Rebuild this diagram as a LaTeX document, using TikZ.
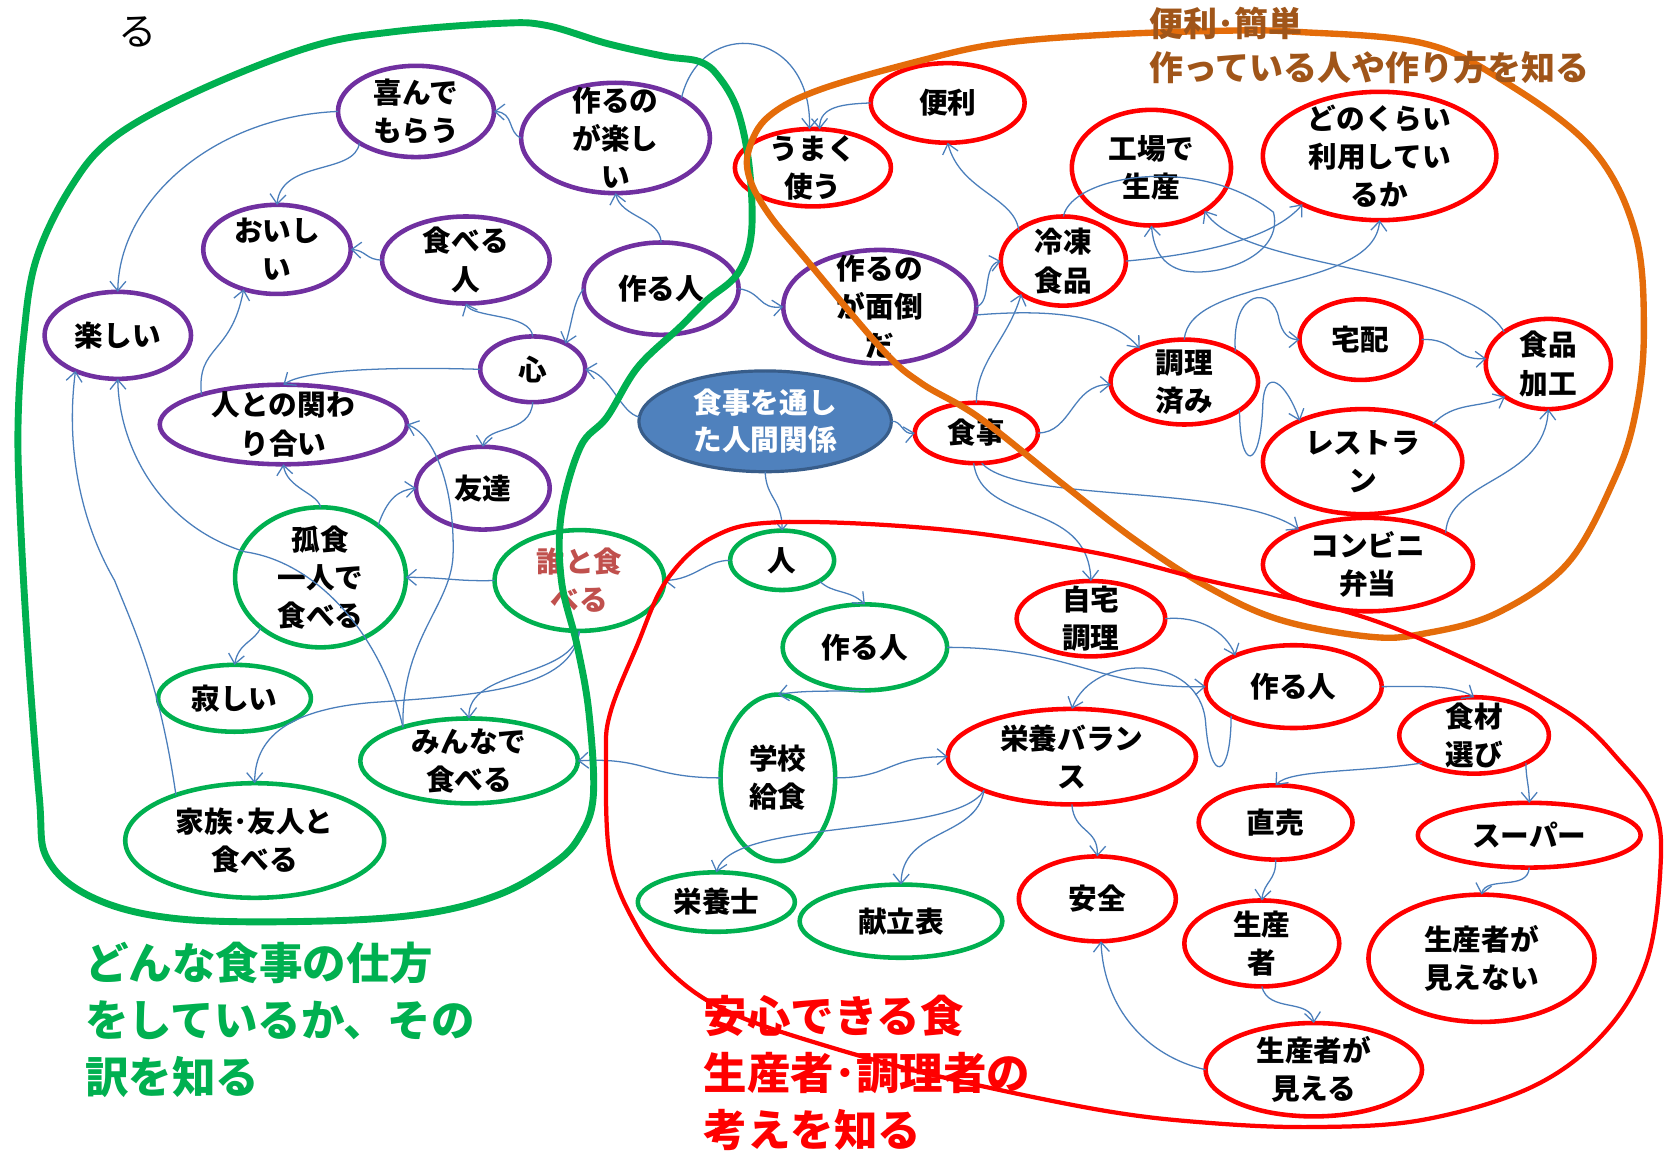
\documentclass[tikz,border=0pt]{standalone}
\usepackage{fontspec}
\setmainfont{Noto Sans CJK JP}
\usetikzlibrary{shapes.geometric,arrows.meta}
\definecolor{cpur}{HTML}{7030A0}
\definecolor{cred}{HTML}{FF0000}
\definecolor{cgrn}{HTML}{00B050}
\definecolor{cblu}{HTML}{4A7EBB}
\definecolor{cfill}{HTML}{4F81BD}
\definecolor{cbord}{HTML}{385D8A}
\definecolor{cdare}{HTML}{C0504D}
\definecolor{corg}{HTML}{E46C0A}
\definecolor{cbrn}{RGB}{160,85,25}
\newcommand{\enode}[8]{%
  \node[ebox, draw=#2, minimum width=#5pt, minimum height=#6pt] (#1) at (#3,#4) {};
  \node[etext, #7] (#1-t) at (#1.center) {#8};}
\begin{document}
\begin{tikzpicture}[x=1pt,y=-1pt,
  ebox/.style={shape=ellipse, line width=4.3pt, inner sep=0pt, outer sep=0pt},
  etext/.style={align=center, inner sep=0pt, font=\bfseries\fontsize{27}{36}\selectfont},
  conn/.style={draw=cblu, line width=1.2pt, -{Straight Barb[length=9pt,width=15pt]}},
  lbl/.style={align=left, inner sep=0pt, anchor=west}]
\useasboundingbox[fill=white] (0,0) rectangle (1568,1093);

% purple nodes
\enode{yoro}{cpur}{392}{105}{147}{86}{}{喜んで\\もらう}
\enode{tanoshi2}{cpur}{580}{130}{178}{104}{}{作るの\\が楽し\\い}
\enode{oishii}{cpur}{261}{235}{139}{84}{}{おいし\\い}
\enode{taberu}{cpur}{439}{245}{158}{82}{}{食べる\\人}
\enode{tsukuruP}{cpur}{623}{272}{146}{87}{}{作る人}
\enode{mendo}{cpur}{829}{289}{182}{107}{}{作るの\\が面倒\\だ}
\enode{tanoshii}{cpur}{111}{316}{138}{82}{}{楽しい}
\enode{kokoro}{cpur}{502}{348}{99}{62}{}{心}
\enode{kakawari}{cpur}{267}{400}{233}{75}{}{人との関わ\\り合い}
\enode{tomo}{cpur}{455}{460}{126}{78}{}{友達}
% red nodes
\enode{umaku}{cred}{766}{158}{147}{73}{}{うまく\\使う}
\enode{benri}{cred}{893}{97}{145}{75}{}{便利}
\enode{kojo}{cred}{1085}{158}{150}{109}{}{工場で\\生産}
\enode{donokurai}{cred}{1300}{147}{220}{121}{}{どのくらい\\利用してい\\るか}
\enode{reito}{cred}{1002}{246}{118}{84}{}{冷凍\\食品}
\enode{chori}{cred}{1116}{360}{139}{80}{}{調理\\済み}
\enode{takuhai}{cred}{1282}{320}{115}{76}{}{宅配}
\enode{kako}{cred}{1459}{343}{118}{85}{}{食品\\加工}
\enode{shokuji}{cred}{920}{408}{116}{57}{}{食事}
\enode{resto}{cred}{1284}{435}{188}{99}{}{レストラ\\ン}
\enode{konbini}{cred}{1289}{532}{198}{88}{}{コンビニ\\弁当}
\enode{jitaku}{cred}{1028}{583}{140}{71}{}{自宅\\調理}
\enode{tsukuruR}{cred}{1219}{647}{166}{78}{}{作る人}
\enode{eiyo}{cred}{1010}{713}{234}{90}{}{栄養バラン\\ス}
\enode{shokuzai}{cred}{1389}{693}{141}{72}{}{食材\\選び}
\enode{chokubai}{cred}{1202}{775}{145}{70}{}{直売}
\enode{super}{cred}{1441}{787}{210}{61}{}{スーパー}
\enode{anzen}{cred}{1034}{847}{148}{80}{}{安全}
\enode{seisan}{cred}{1189}{889}{146}{81}{}{生産\\者}
\enode{mienai}{cred}{1396}{903}{213}{120}{}{生産者が\\見えない}
\enode{mieru}{cred}{1238}{1008}{204}{88}{}{生産者が\\見える}
% green nodes
\enode{kosyoku}{cgrn}{302}{544}{161}{132}{}{孤食\\一人で\\食べる}
\enode{dare}{cgrn}{546}{547}{160}{95}{text=cdare}{誰と食\\べる}
\enode{hito}{cgrn}{737}{528}{98}{56}{}{人}
\enode{tsukuruG}{cgrn}{815}{610}{155}{81}{}{作る人}
\enode{sabishii}{cgrn}{221}{658}{144}{63}{}{寂しい}
\enode{gakko}{cgrn}{733}{733}{108}{157}{}{学校\\給食}
\enode{minna}{cgrn}{442}{717}{205}{80}{}{みんなで\\食べる}
\enode{kazoku}{cgrn}{240}{792}{244}{108}{}{家族･友人と\\食べる}
\enode{eiyoshi}{cgrn}{675}{850}{148}{56}{}{栄養士}
\enode{kondate}{cgrn}{849}{868}{191}{69}{}{献立表}
% centre node
\node[ebox, fill=cfill, draw=cbord, line width=3pt, minimum width=238pt, minimum height=95pt] (kankei) at (721,397) {};
\node[etext, text=white, font=\bfseries\fontsize{27}{35}\selectfont] (kankei-t) at (kankei.center) {食事を通し\\た人間関係};

% connectors
\draw[conn] (tanoshi2.180) .. controls (478,125) and (485,106) .. (yoro.0);
\draw[conn] (yoro.180) .. controls (200,110) and (112,190) .. (tanoshii.90);
\draw[conn] (yoro.209) .. controls (335,165) and (265,150) .. (oishii.90);
\draw[conn] (taberu.180) .. controls (345,245) and (345,236) .. (oishii.0);
\draw[conn] (kokoro.90) .. controls (500,295) and (445,300) .. (taberu.270);
\draw[conn] (tsukuruP.90) .. controls (622,205) and (585,205) .. (tanoshi2.270);
\draw[conn] (tsukuruP.180) .. controls (540,285) and (540,300) .. (kokoro.38);
\draw[conn] (tsukuruP.0) .. controls (718,275) and (715,292) .. (mendo.180);
\draw[conn] (tanoshi2.31) .. controls (660,15) and (765,25) .. (umaku.95);
\draw[conn] (benri.180) .. controls (795,98) and (772,100) .. (umaku.80);
\draw[conn] (reito.145) .. controls (955,185) and (905,180) .. (benri.270);
\draw[conn] (mendo.0) .. controls (935,285) and (925,250) .. (reito.180);
\draw[conn] (mendo.-5) .. controls (1000,290) and (1050,300) .. (chori.143);
\draw[conn] (shokuji.90) .. controls (920,340) and (950,320) .. (reito.218);
\draw[conn] (reito.0) .. controls (1130,240) and (1200,225) .. (donokurai.212);
\draw[conn] (reito.90) .. controls (1010,165) and (1130,145) .. (1200,200) .. controls (1210,240) and (1150,262) .. (1115,255) .. controls (1095,250) and (1087,235) .. (kojo.270);
\draw[conn] (kako.144) .. controls (1380,250) and (1170,255) .. (kojo.-39);
\draw[conn] (chori.90) .. controls (1120,260) and (1295,275) .. (donokurai.270);
\draw[conn] (chori.31) .. controls (1160,270) and (1200,270) .. (1205,300) .. controls (1208,315) and (1215,320) .. (takuhai.180);
\draw[conn] (chori.-27) .. controls (1168,445) and (1188,445) .. (1190,380) .. controls (1192,345) and (1212,360) .. (resto.147);
\draw[conn] (takuhai.0) .. controls (1370,318) and (1370,340) .. (kako.175);
\draw[conn] (resto.28) .. controls (1370,378) and (1395,385) .. (kako.217);
\draw[conn] (konbini.22) .. controls (1365,450) and (1455,455) .. (kako.270);
\draw[conn] (shokuji.-80) .. controls (960,475) and (1160,455) .. (konbini.153);
\draw[conn] (shokuji.-95) .. controls (925,495) and (1025,470) .. (jitaku.90);
\draw[conn] (shokuji.0) .. controls (1010,408) and (1010,362) .. (chori.182);
\draw[conn] (kankei.0) .. controls (850,396) and (850,410) .. (shokuji.180);
\draw[conn] (kankei.178) .. controls (585,390) and (575,352) .. (kokoro.0);
\draw[conn] (kankei.270) .. controls (722,470) and (737,470) .. (hito.90);
\draw[conn] (kokoro.180) .. controls (350,345) and (285,350) .. (kakawari.90);
\draw[conn] (kokoro.270) .. controls (500,410) and (458,400) .. (tomo.90);
\draw[conn] (kakawari.160) .. controls (185,325) and (218,335) .. (oishii.230);
\draw[conn] (kosyoku.90) .. controls (300,465) and (270,460) .. (kakawari.270);
\draw[conn] (kosyoku.42) .. controls (365,470) and (375,462) .. (tomo.180);
\draw[conn] (kosyoku.220) .. controls (240,605) and (225,605) .. (sabishii.90);
\draw[conn] (dare.180) .. controls (430,548) and (420,544) .. (kosyoku.0);
\draw[conn] (hito.180) .. controls (665,528) and (655,546) .. (dare.0);
\draw[conn] (hito.-29) .. controls (785,560) and (800,555) .. (tsukuruG.90);
\draw[conn] (tsukuruG.270) .. controls (780,652) and (760,650) .. (gakko.90);
\draw[conn] (tsukuruG.0) .. controls (1010,610) and (1040,650) .. (tsukuruR.180);
\draw[conn] (tsukuruR.205) .. controls (1160,735) and (1140,740) .. (1136,680) .. controls (1130,615) and (1030,615) .. (eiyo.90);
\draw[conn] (jitaku.0) .. controls (1130,580) and (1155,595) .. (tsukuruR.152);
\draw[conn] (tsukuruR.0) .. controls (1340,647) and (1370,645) .. (shokuzai.90);
\draw[conn] (shokuzai.208) .. controls (1280,728) and (1215,725) .. (chokubai.90);
\draw[conn] (shokuzai.-28) .. controls (1438,735) and (1441,740) .. (super.90);
\draw[conn] (chokubai.270) .. controls (1203,830) and (1191,830) .. (seisan.90);
\draw[conn] (super.270) .. controls (1440,840) and (1400,825) .. (mienai.90);
\draw[conn] (seisan.270) .. controls (1195,955) and (1235,940) .. (mieru.90);
\draw[conn] (mieru.180) .. controls (1080,995) and (1040,950) .. (anzen.-85);
\draw[conn] (eiyo.270) .. controls (1012,785) and (1035,780) .. (anzen.90);
\draw[conn] (eiyo.201) .. controls (920,790) and (850,780) .. (kondate.90);
\draw[conn] (eiyo.201) .. controls (900,790) and (690,770) .. (eiyoshi.90);
\draw[conn] (gakko.0) .. controls (840,733) and (835,713) .. (eiyo.180);
\draw[conn] (gakko.180) .. controls (610,733) and (610,713) .. (minna.0);
\draw[conn] (dare.270) .. controls (540,640) and (440,630) .. (minna.90);
\draw[conn] (dare.270) .. controls (540,650) and (450,655) .. (350,662) .. controls (280,668) and (240,690) .. (kazoku.90);
\draw[conn] (minna.153) .. controls (360,600) and (300,530) .. (231,520) .. controls (150,495) and (112,420) .. (tanoshii.270);
\draw[conn] (minna.153) .. controls (378,600) and (427,570) .. (427,520) .. controls (428,460) and (410,410) .. (kakawari.0);
\draw[conn] (kazoku.150) .. controls (150,640) and (125,590) .. (108,547) .. controls (75,490) and (62,420) .. (tanoshii.220);

% outlines
\draw[cgrn, line width=6.5pt, line join=round] plot[smooth cycle, tension=0.6] coordinates {
 (108,129) (188,85) (293,44) (370,30) (471,22) (515,24) (572,41) (626,53) (659,58) (677,72) (695,104) (706,157) (708,220) (695,258) (666,283) (641,308) (601,346) (572,393) (547,421) (529,484) (529,547) (544,609) (555,672) (559,751) (545,790) (520,815) (470,843) (400,861) (300,868) (170,866) (90,847) (45,810) (37,751) (26,609) (19,484) (17,400) (22,320) (34,245) (67,176)};
\draw[corg, line width=6pt] plot[smooth cycle, tension=0.6] coordinates {
 (706,140) (724,110) (771,85) (868,57) (942,41) (1037,33) (1150,29) (1222,30) (1342,41) (1421,79) (1501,141) (1541,220) (1549,314) (1541,390) (1521,452) (1477,531) (1410,578) (1342,597) (1291,600) (1206,584) (1138,553) (1070,509) (1000,455) (922,393) (868,361) (832,330) (760,245) (724,201) (706,167)};
\draw[cred, line width=4pt] plot[smooth cycle, tension=0.6] coordinates {
 (737,492) (889,499) (1033,521) (1138,547) (1274,578) (1376,619) (1478,672) (1528,719) (1558,760) (1565,810) (1552,905) (1511,974) (1444,1024) (1342,1055) (1240,1062) (1138,1058) (1037,1046) (888,1015) (780,986) (690,955) (636,920) (600,873) (575,810) (571,716) (575,672) (600,609) (628,547) (672,506)};

% labels
\node[inner sep=0pt, font=\fontsize{36}{40}\selectfont] (ru) at (130,30) {る};
\node[lbl, text=cbrn, font=\bfseries\fontsize{32}{41}\selectfont] (lbrn) at (1083,43) {便利･簡単\\作っている人や作り方を知る};
\node[lbl, text=cgrn, font=\bfseries\fontsize{41}{54}\selectfont] (lgrn) at (80,961) {どんな食事の仕方\\をしているか、その\\訳を知る};
\node[lbl, text=cred, font=\bfseries\fontsize{41}{54}\selectfont] (lred) at (663,1011) {安心できる食\\生産者･調理者の\\考えを知る};
\end{tikzpicture}
\end{document}
